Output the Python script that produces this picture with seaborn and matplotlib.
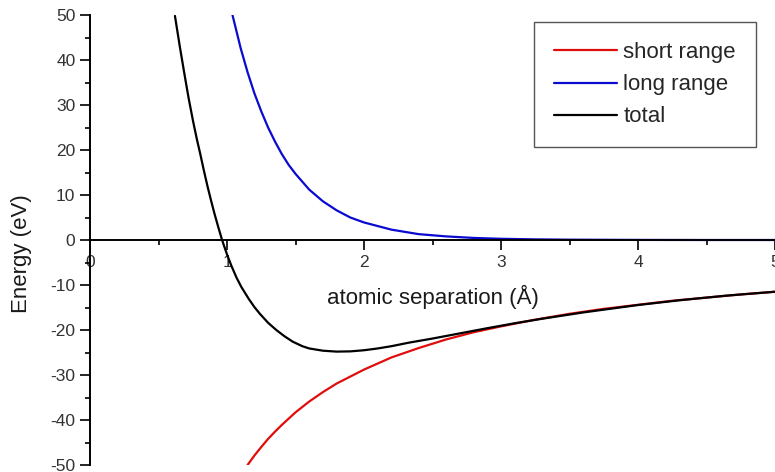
import numpy as np
import pandas as pd
import matplotlib
matplotlib.use("Agg")
import matplotlib.pyplot as plt
import seaborn as sns
from matplotlib.ticker import MultipleLocator

# ── values ──
short_r = [1.15, 1.2, 1.25, 1.3, 1.35, 1.4, 1.5, 1.6, 1.7, 1.8, 2.0, 2.2,
           2.4, 2.6, 2.8, 3.0, 3.25, 3.5, 3.75, 4.0, 4.25, 4.5, 4.75, 5.0]
short_e = [-50.0, -47.9, -46.0, -44.2, -42.6, -41.1, -38.3, -35.9, -33.8,
           -31.9, -28.8, -26.1, -24.0, -22.1, -20.5, -19.2, -17.7, -16.4,
           -15.3, -14.4, -13.5, -12.8, -12.1, -11.5]

long_r = [1.04, 1.1, 1.15, 1.2, 1.25, 1.3, 1.35, 1.4, 1.45, 1.5, 1.6, 1.7,
          1.8, 1.9, 2.0, 2.2, 2.4, 2.6, 2.8, 3.0, 3.25, 3.5, 4.0, 4.5, 5.0]
long_e = [50.0, 42.6, 37.3, 32.6, 28.6, 25.0, 21.9, 19.1, 16.7, 14.7,
          11.2, 8.6, 6.6, 5.0, 3.9, 2.3, 1.3, 0.8, 0.46, 0.27, 0.14, 0.07,
          0.02, 0.0, 0.0]

total_r = [0.62, 0.655, 0.692, 0.72, 0.753, 0.78, 0.805, 0.83, 0.858,
           0.885, 0.91, 0.937, 0.964, 1.0, 1.033, 1.07, 1.106, 1.159, 1.2,
           1.24, 1.3, 1.36, 1.42, 1.48, 1.55, 1.6, 1.7, 1.8, 1.9, 2.0, 2.1,
           2.2, 2.33, 2.5, 2.7, 2.9, 3.1, 3.3, 3.6, 4.0, 4.3, 4.65, 5.0]
total_e = [49.8, 43.1, 36.4, 31.5, 26.3, 22.4, 19.1, 15.6, 11.9, 8.6, 5.7,
           2.8, 0.0, -3.2, -5.8, -8.4, -10.5, -13.1, -14.9, -16.4, -18.4,
           -20.0, -21.4, -22.6, -23.6, -24.1, -24.6, -24.8, -24.75, -24.5,
           -24.1, -23.6, -22.8, -21.9, -20.75, -19.6, -18.5, -17.5, -16.1,
           -14.45, -13.4, -12.35, -11.5]

series = [
    ("short range", short_r, short_e, "#e00d0d"),
    ("long range", long_r, long_e, "#0a0ad0"),
    ("total", total_r, total_e, "#000000"),
]

sns.set_style("ticks")
plt.rcParams["font.family"] = ["Liberation Sans", "DejaVu Sans"]
plt.rcParams["axes.unicode_minus"] = False

fig = plt.figure(figsize=(7.75, 4.72), dpi=100)
ax = fig.add_axes([90 / 775, 7 / 472, 685 / 775, 450 / 472])

for name, r, e, col in series:
    df = pd.DataFrame({"r": r, "E": e})
    sns.lineplot(data=df, x="r", y="E", color=col, lw=1.6, label=name,
                 estimator=None, ax=ax)

ax.set_xlim(0, 5)
ax.set_ylim(-50, 50)

ax.spines["top"].set_visible(False)
ax.spines["right"].set_visible(False)
ax.spines["bottom"].set_position(("data", 0))
for s in ("left", "bottom"):
    ax.spines[s].set_linewidth(1.4)
    ax.spines[s].set_color("black")

ax.xaxis.set_major_locator(MultipleLocator(1))
ax.xaxis.set_minor_locator(MultipleLocator(0.5))
ax.yaxis.set_major_locator(MultipleLocator(10))
ax.yaxis.set_minor_locator(MultipleLocator(5))
ax.tick_params(which="major", direction="out", length=7, width=1.2,
               labelsize=12.5, labelcolor="#333333", color="black")
ax.tick_params(which="minor", direction="out", length=3.5, width=1.2,
               color="black")

ax.set_xlabel("atomic separation (Å)", fontsize=16, color="#1a1a1a")
ax.set_ylabel("Energy (eV)", fontsize=16, color="#1a1a1a")
ax.xaxis.set_label_coords(0.5, 0.40)
ax.yaxis.set_label_coords(-0.085, 0.47)

leg = ax.legend(loc="upper right", bbox_to_anchor=(0.972, 0.984),
                fontsize=16, frameon=True, fancybox=False, framealpha=1,
                handlelength=2.8, handletextpad=0.3, labelspacing=0.5,
                borderpad=0.9, borderaxespad=0)
leg.get_frame().set_edgecolor("#555555")
leg.get_frame().set_linewidth(1.0)

fig.savefig("out.png", dpi=100)
